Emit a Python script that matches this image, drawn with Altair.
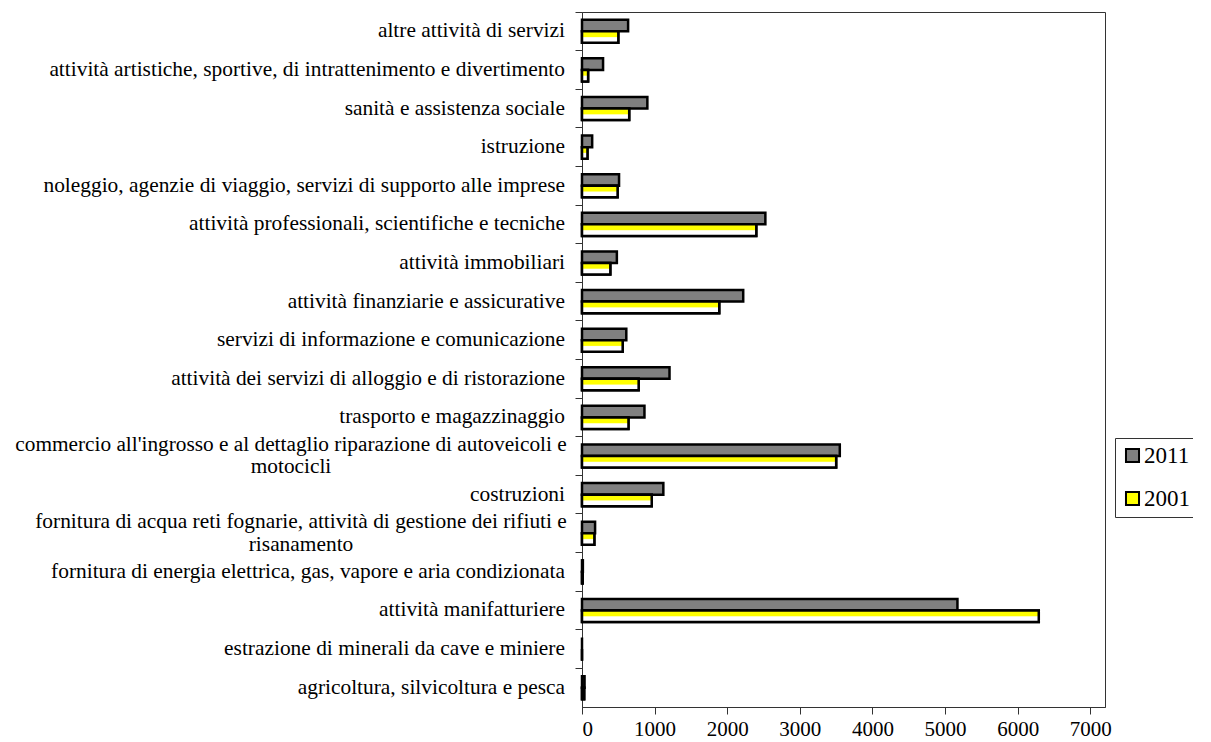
import altair as alt
import pandas as pd

categories = [
    "altre attività di servizi",
    "attività artistiche, sportive, di intrattenimento e divertimento",
    "sanità e assistenza sociale",
    "istruzione",
    "noleggio, agenzie di viaggio, servizi di supporto alle imprese",
    "attività professionali, scientifiche e tecniche",
    "attività immobiliari",
    "attività finanziarie e assicurative",
    "servizi di informazione e comunicazione",
    "attività dei servizi di alloggio e di ristorazione",
    "trasporto e magazzinaggio",
    "commercio all'ingrosso e al dettaglio riparazione di autoveicoli e\nmotocicli",
    "costruzioni",
    "fornitura di acqua reti fognarie, attività di gestione dei rifiuti e\nrisanamento",
    "fornitura di energia elettrica, gas, vapore e aria condizionata",
    "attività manifatturiere",
    "estrazione di minerali da cave e miniere",
    "agricoltura, silvicoltura e pesca",
]
values_2011 = [635, 290, 900, 140, 510, 2525, 480, 2220, 610, 1205, 860, 3550, 1120, 180, 12, 5170, 0, 35]
values_2001 = [500, 84, 650, 75, 490, 2400, 390, 1890, 560, 780, 640, 3500, 960, 170, 10, 6290, 0, 30]
years = ["2011", "2001"]
x_ticks = [0, 1000, 2000, 3000, 4000, 5000, 6000, 7000]

rows = []
for c, a, b in zip(categories, values_2011, values_2001):
    rows.append({"cat": c, "year": "2011", "value": a})
    rows.append({"cat": c, "year": "2001", "value": b})
df = pd.DataFrame(rows)
labels_df = pd.DataFrame({"cat": categories})
labels_df["multi"] = labels_df["cat"].str.contains("\n")

FONT = "Liberation Serif"
AX = "#333333"
LFS = 21.4

ycat = alt.Y(
    "cat:N", sort=categories,
    scale=alt.Scale(domain=categories, paddingInner=0, paddingOuter=0),
    axis=alt.Axis(labels=False, title=None, bandPosition=0, tickSize=7,
                  domainColor=AX, tickColor=AX, grid=False),
)
xval = alt.X(
    "value:Q",
    scale=alt.Scale(domain=[0, 7202], nice=False),
    axis=alt.Axis(values=x_ticks, title=None, labelFont=FONT, labelFontSize=21,
                  labelColor="black", tickSize=7, labelPadding=4, grid=False,
                  domainColor=AX, tickColor=AX, format="d"),
)
yoff = alt.YOffset("year:N", sort=years,
                   scale=alt.Scale(domain=years, paddingInner=0, paddingOuter=0.67))

gradient = {
    "gradient": "linear", "x1": 0, "y1": 0, "x2": 0, "y2": 1,
    "stops": [
        {"offset": 0, "color": "#ffff00"},
        {"offset": 0.45, "color": "#ffff00"},
        {"offset": 0.55, "color": "#ffffff"},
        {"offset": 1, "color": "#ffffff"},
    ],
}

bars = alt.Chart(df).mark_bar(stroke="black", strokeWidth=2.5).encode(
    x=xval, y=ycat, yOffset=yoff,
    color=alt.Color(
        "year:N", sort=years,
        scale=alt.Scale(domain=years, range=["#808080", "#ffff00"]),
        legend=alt.Legend(
            title=None, orient="none", legendX=533, legendY=426, direction="vertical",
            labelFont=FONT, labelFontSize=23, labelColor="black",
            symbolType="square", symbolSize=170, symbolStrokeColor="black",
            symbolStrokeWidth=2, symbolOpacity=1, strokeColor=AX, fillColor="white",
            padding=6, rowPadding=19, labelOffset=0,
        ),
    ),
)

pattern = alt.Chart(df).transform_filter(alt.datum.year == "2001").mark_bar(
    fill=gradient, stroke="black", strokeWidth=2.5
).encode(x=xval, y=ycat, yOffset=yoff)

lab_single = alt.Chart(labels_df).transform_filter("!datum.multi").mark_text(
    align="right", baseline="middle", font=FONT, fontSize=LFS, color="black"
).encode(y=ycat, x=alt.value(-17), text="cat:N")

lab_commercio = alt.Chart(labels_df).transform_filter(alt.datum.cat == categories[11]).mark_text(
    align="center", baseline="middle", font=FONT, fontSize=21.3, color="black",
    lineBreak="\n", lineHeight=22, dy=-11
).encode(y=ycat, x=alt.value(-291), text="cat:N")

lab_acqua = alt.Chart(labels_df).transform_filter(alt.datum.cat == categories[13]).mark_text(
    align="center", baseline="middle", font=FONT, fontSize=LFS, color="black",
    lineBreak="\n", lineHeight=23, dy=-11.5
).encode(y=ycat, x=alt.value(-281), text="cat:N")

chart = alt.layer(bars, pattern, lab_single, lab_commercio, lab_acqua).properties(
    width=523, height=695,
    autosize=alt.AutoSizeParams(type="none"),
    padding={"left": 574, "top": 4, "right": 88, "bottom": 36},
    background="white",
).configure_view(stroke=AX, strokeWidth=1)

chart.save("out.html", embed_options={"renderer": "svg", "actions": False})
